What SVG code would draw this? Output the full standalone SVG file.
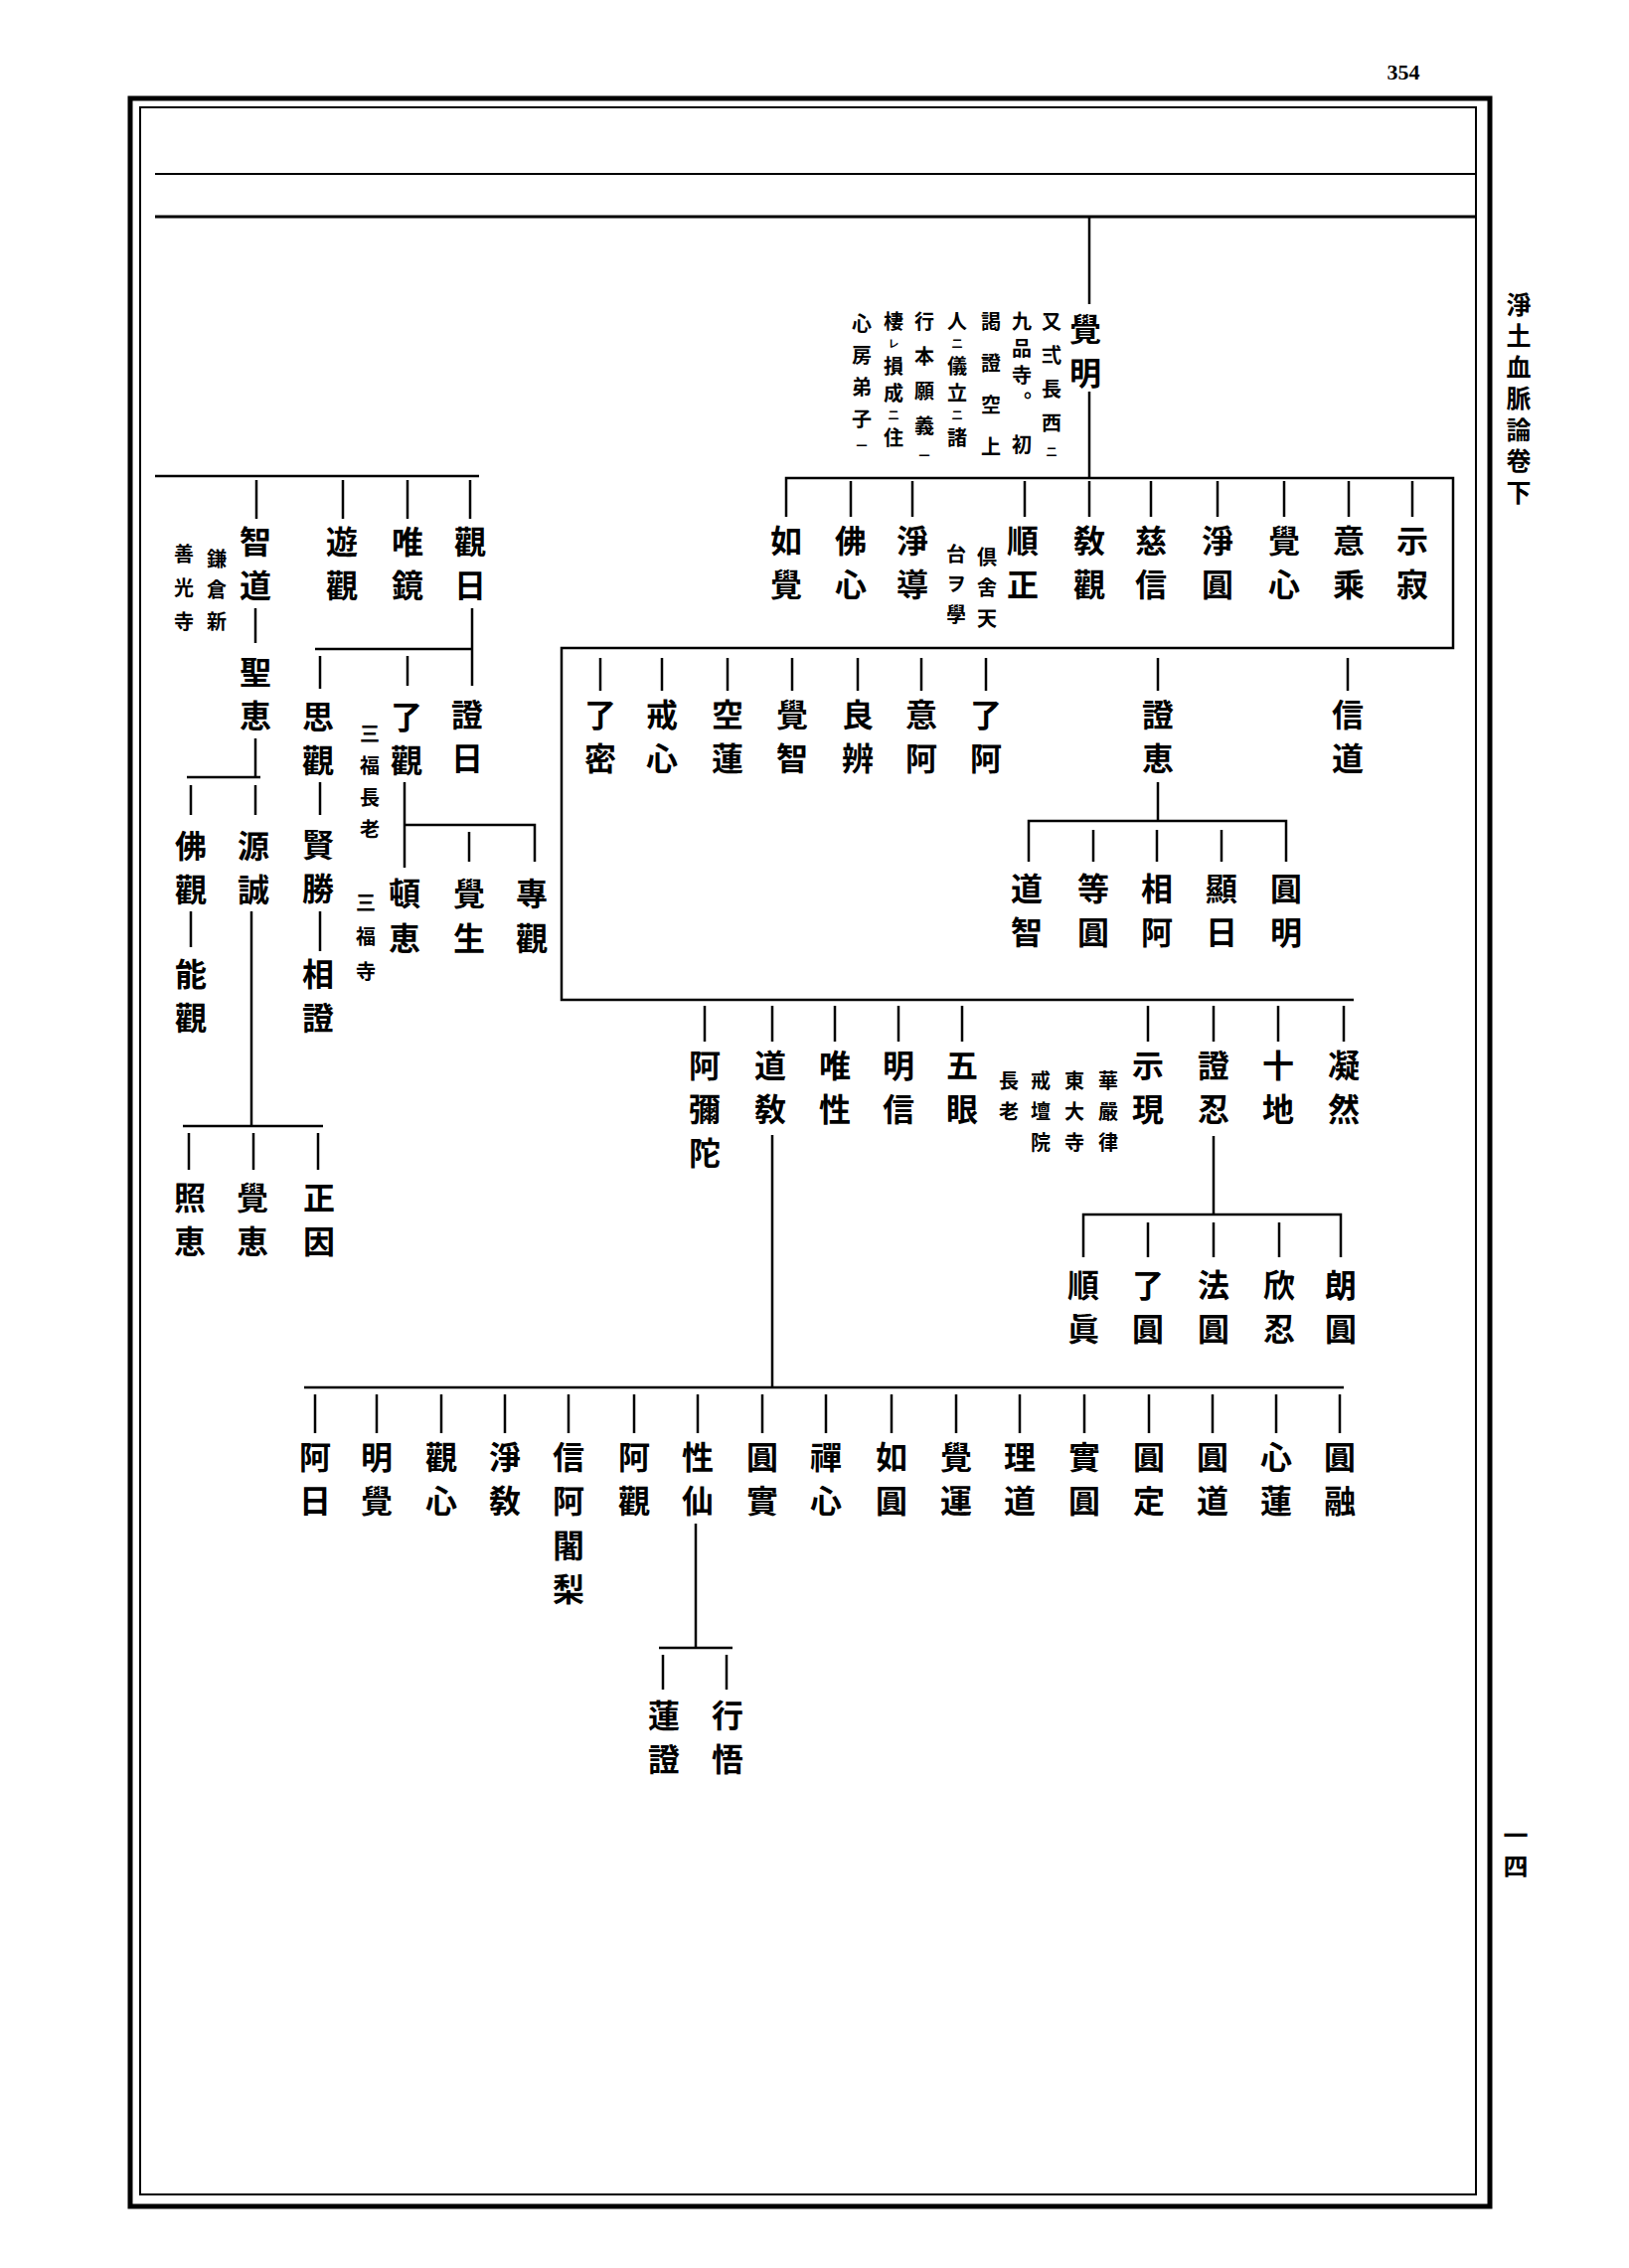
<svg xmlns="http://www.w3.org/2000/svg" width="1639" height="2282" viewBox="0 0 1639 2282">
<style>
.n{font-family:"Noto Sans CJK JP","Noto Sans CJK SC",sans-serif;font-size:32px;font-weight:700;text-anchor:middle;dominant-baseline:central;fill:#000}
.v{font-family:"Noto Sans CJK JP","Noto Sans CJK SC",sans-serif;font-size:20px;font-weight:700;writing-mode:vertical-rl;text-anchor:start;fill:#000}
.s{font-size:11px}
.m{font-size:25px;letter-spacing:6.5px}
.c path{stroke:#000;stroke-width:2.5;fill:none}
.f{stroke:#000;fill:none}
</style>
<rect width="1639" height="2282" fill="#fff"/>
<g id="frame">
<rect class="f" x="131" y="99" width="1368" height="2121" stroke-width="5"/>
<rect class="f" x="141" y="108" width="1344" height="2100" stroke-width="2"/>
<path class="f" d="M156 175H1485" stroke-width="2"/>
<path class="f" d="M156 218H1485" stroke-width="3"/>
<text x="1412" y="80" font-family="Liberation Serif,serif" font-size="22" font-weight="700" text-anchor="middle">354</text>
<text class="v m" x="1528" y="293.5">淨土血脈論卷下</text>
<text class="v m" x="1525" y="1833.5">一四</text>
</g>
<g class="c" id="connectors">
<path d="M1096 218V306M1096 394V481"/>
<path d="M791 520V481H1462V652H565V1006H1362"/>
<path d="M856 484V520M918 484V520M1031 484V520M1096 484V520M1158 484V520M1225 484V520M1292 484V520M1357 484V520M1421 484V520"/>
<path d="M604 662V695M666 662V695M732 662V695M797 662V695M863 662V695M927 662V695M992 662V695M1165 662V695M1356 662V695"/>
<path d="M1165 787V826M1035 867V826H1294V867M1100 835V867M1164 835V867M1229 835V867"/>
<path d="M709 1012V1048M777 1012V1048M840 1012V1048M904 1012V1048M968 1012V1048M1155 1012V1048M1221 1012V1048M1286 1012V1048M1352 1012V1048"/>
<path d="M1221 1143V1222M1090 1265V1222H1349V1265M1155 1230V1265M1221 1230V1265M1287 1230V1265"/>
<path d="M777 1142V1396M306 1396H1352"/>
<path d="M317 1403V1442M379 1403V1442M444 1403V1442M508 1403V1442M572 1403V1442M638 1403V1442M702 1403V1442M767 1403V1442M831 1403V1442M897 1403V1442M962 1403V1442M1026 1403V1442M1091 1403V1442M1156 1403V1442M1220 1403V1442M1284 1403V1442M1348 1403V1442"/>
<path d="M700 1533V1658M663 1658H737M667 1665V1700M731 1665V1700"/>
<path d="M156 479H482M258 483V522M345 483V522M410 483V522M473 483V522"/>
<path d="M257 612V647M257 743V782M188 782H262M192 790V820M257 790V820"/>
<path d="M192 917V953M253 917V1133M184 1133H325M190 1140V1177M255 1140V1177M320 1140V1177"/>
<path d="M475 612V690M317 653H475M322 660V693M410 660V690"/>
<path d="M322 787V820M322 917V957"/>
<path d="M407 787V873M407 830H538V867M472 837V867"/>
</g>
<g id="n-kakumyo"><text class="n"><tspan x="1092" y="329">覺</tspan><tspan x="1092" y="373">明</tspan></text></g>
<g id="n-kakumyo-note">
<text class="v" x="1058" y="313" letter-spacing="14">又弍長西<tspan class="s">二</tspan></text>
<text class="v" x="1028" y="313" letter-spacing="7">九品寺。</text>
<text class="v" x="1028" y="437">初</text>
<text class="v" x="997" y="313" letter-spacing="22">謁證空上</text>
<text class="v" x="963" y="313" letter-spacing="7">人<tspan class="s">二</tspan>儀立<tspan class="s">二</tspan>諸</text>
<text class="v" x="930" y="313" letter-spacing="15">行本願義<tspan class="s">一</tspan></text>
<text class="v" x="899" y="313" letter-spacing="7">棲<tspan class="s">レ</tspan>損成<tspan class="s">二</tspan>住</text>
<text class="v" x="867" y="315" letter-spacing="12">心房弟子<tspan class="s">一</tspan></text>
</g>
<g id="n-nyokaku"><text class="n"><tspan x="791" y="542">如</tspan><tspan x="791" y="586">覺</tspan></text></g>
<g id="n-busshin"><text class="n"><tspan x="856" y="542">佛</tspan><tspan x="856" y="586">心</tspan></text></g>
<g id="n-jodo"><text class="n"><tspan x="918" y="542">淨</tspan><tspan x="918" y="586">導</tspan></text>
<text class="v" x="993" y="550" letter-spacing="11">倶舍天</text>
<text class="v" x="962" y="547" letter-spacing="10.5">台ヲ學</text></g>
<g id="n-junsho"><text class="n"><tspan x="1029" y="542">順</tspan><tspan x="1029" y="586">正</tspan></text></g>
<g id="n-kyokan"><text class="n"><tspan x="1096" y="542">敎</tspan><tspan x="1096" y="586">觀</tspan></text></g>
<g id="n-jishin"><text class="n"><tspan x="1158" y="542">慈</tspan><tspan x="1158" y="586">信</tspan></text></g>
<g id="n-joen"><text class="n"><tspan x="1225" y="542">淨</tspan><tspan x="1225" y="586">圓</tspan></text></g>
<g id="n-kakushin"><text class="n"><tspan x="1292" y="542">覺</tspan><tspan x="1292" y="586">心</tspan></text></g>
<g id="n-ijo"><text class="n"><tspan x="1357" y="542">意</tspan><tspan x="1357" y="586">乘</tspan></text></g>
<g id="n-jijaku"><text class="n"><tspan x="1421" y="542">示</tspan><tspan x="1421" y="586">寂</tspan></text></g>
<g id="n-ryomitsu"><text class="n"><tspan x="604" y="717">了</tspan><tspan x="604" y="761">密</tspan></text></g>
<g id="n-kaishin"><text class="n"><tspan x="666" y="717">戒</tspan><tspan x="666" y="761">心</tspan></text></g>
<g id="n-kuren"><text class="n"><tspan x="732" y="717">空</tspan><tspan x="732" y="761">蓮</tspan></text></g>
<g id="n-kakuchi"><text class="n"><tspan x="797" y="717">覺</tspan><tspan x="797" y="761">智</tspan></text></g>
<g id="n-ryoben"><text class="n"><tspan x="863" y="717">良</tspan><tspan x="863" y="761">辨</tspan></text></g>
<g id="n-ia"><text class="n"><tspan x="927" y="717">意</tspan><tspan x="927" y="761">阿</tspan></text></g>
<g id="n-ryoa"><text class="n"><tspan x="992" y="717">了</tspan><tspan x="992" y="761">阿</tspan></text></g>
<g id="n-shoe"><text class="n"><tspan x="1165" y="717">證</tspan><tspan x="1165" y="761">恵</tspan></text></g>
<g id="n-shindo"><text class="n"><tspan x="1356" y="717">信</tspan><tspan x="1356" y="761">道</tspan></text></g>
<g id="n-dochi"><text class="n"><tspan x="1033" y="892">道</tspan><tspan x="1033" y="936">智</tspan></text></g>
<g id="n-toen"><text class="n"><tspan x="1100" y="892">等</tspan><tspan x="1100" y="936">圓</tspan></text></g>
<g id="n-soa"><text class="n"><tspan x="1164" y="892">相</tspan><tspan x="1164" y="936">阿</tspan></text></g>
<g id="n-kennichi"><text class="n"><tspan x="1229" y="892">顯</tspan><tspan x="1229" y="936">日</tspan></text></g>
<g id="n-enmyo"><text class="n"><tspan x="1294" y="892">圓</tspan><tspan x="1294" y="936">明</tspan></text></g>
<g id="n-amida"><text class="n"><tspan x="709" y="1070">阿</tspan><tspan x="709" y="1114">彌</tspan><tspan x="709" y="1158">陀</tspan></text></g>
<g id="n-dokyo"><text class="n"><tspan x="775" y="1070">道</tspan><tspan x="775" y="1114">敎</tspan></text></g>
<g id="n-yuisho"><text class="n"><tspan x="840" y="1070">唯</tspan><tspan x="840" y="1114">性</tspan></text></g>
<g id="n-myoshin"><text class="n"><tspan x="904" y="1070">明</tspan><tspan x="904" y="1114">信</tspan></text></g>
<g id="n-gogen"><text class="n"><tspan x="968" y="1070">五</tspan><tspan x="968" y="1114">眼</tspan></text></g>
<g id="n-jigen"><text class="n"><tspan x="1155" y="1070">示</tspan><tspan x="1155" y="1114">現</tspan></text>
<text class="v" x="1115" y="1077" letter-spacing="11">華嚴律</text>
<text class="v" x="1081" y="1077" letter-spacing="11">東大寺</text>
<text class="v" x="1047" y="1077" letter-spacing="11">戒壇院</text>
<text class="v" x="1015" y="1077" letter-spacing="11">長老</text></g>
<g id="n-shonin"><text class="n"><tspan x="1221" y="1070">證</tspan><tspan x="1221" y="1114">忍</tspan></text></g>
<g id="n-jicchi"><text class="n"><tspan x="1286" y="1070">十</tspan><tspan x="1286" y="1114">地</tspan></text></g>
<g id="n-gyonen"><text class="n"><tspan x="1352" y="1070">凝</tspan><tspan x="1352" y="1114">然</tspan></text></g>
<g id="n-junshin"><text class="n"><tspan x="1090" y="1291">順</tspan><tspan x="1090" y="1335">眞</tspan></text></g>
<g id="n-ryoen"><text class="n"><tspan x="1155" y="1291">了</tspan><tspan x="1155" y="1335">圓</tspan></text></g>
<g id="n-hoen"><text class="n"><tspan x="1221" y="1291">法</tspan><tspan x="1221" y="1335">圓</tspan></text></g>
<g id="n-gonnin"><text class="n"><tspan x="1287" y="1291">欣</tspan><tspan x="1287" y="1335">忍</tspan></text></g>
<g id="n-roen"><text class="n"><tspan x="1349" y="1291">朗</tspan><tspan x="1349" y="1335">圓</tspan></text></g>
<g id="n-anichi"><text class="n"><tspan x="317" y="1464">阿</tspan><tspan x="317" y="1508">日</tspan></text></g>
<g id="n-myokaku"><text class="n"><tspan x="379" y="1464">明</tspan><tspan x="379" y="1508">覺</tspan></text></g>
<g id="n-kanshin"><text class="n"><tspan x="444" y="1464">觀</tspan><tspan x="444" y="1508">心</tspan></text></g>
<g id="n-jokyo"><text class="n"><tspan x="508" y="1464">淨</tspan><tspan x="508" y="1508">敎</tspan></text></g>
<g id="n-shinajari"><text class="n"><tspan x="572" y="1464">信</tspan><tspan x="572" y="1508">阿</tspan><tspan x="572" y="1553">闍</tspan><tspan x="572" y="1597">梨</tspan></text></g>
<g id="n-akan"><text class="n"><tspan x="638" y="1464">阿</tspan><tspan x="638" y="1508">觀</tspan></text></g>
<g id="n-shosen"><text class="n"><tspan x="702" y="1464">性</tspan><tspan x="702" y="1508">仙</tspan></text></g>
<g id="n-enjitsu"><text class="n"><tspan x="767" y="1464">圓</tspan><tspan x="767" y="1508">實</tspan></text></g>
<g id="n-zenshin"><text class="n"><tspan x="831" y="1464">禪</tspan><tspan x="831" y="1508">心</tspan></text></g>
<g id="n-nyoen"><text class="n"><tspan x="897" y="1464">如</tspan><tspan x="897" y="1508">圓</tspan></text></g>
<g id="n-kakuun"><text class="n"><tspan x="962" y="1464">覺</tspan><tspan x="962" y="1508">運</tspan></text></g>
<g id="n-rido"><text class="n"><tspan x="1026" y="1464">理</tspan><tspan x="1026" y="1508">道</tspan></text></g>
<g id="n-jitsuen"><text class="n"><tspan x="1091" y="1464">實</tspan><tspan x="1091" y="1508">圓</tspan></text></g>
<g id="n-enjo"><text class="n"><tspan x="1156" y="1464">圓</tspan><tspan x="1156" y="1508">定</tspan></text></g>
<g id="n-endo"><text class="n"><tspan x="1220" y="1464">圓</tspan><tspan x="1220" y="1508">道</tspan></text></g>
<g id="n-shinren"><text class="n"><tspan x="1284" y="1464">心</tspan><tspan x="1284" y="1508">蓮</tspan></text></g>
<g id="n-enyu"><text class="n"><tspan x="1348" y="1464">圓</tspan><tspan x="1348" y="1508">融</tspan></text></g>
<g id="n-rensho"><text class="n"><tspan x="668" y="1724">蓮</tspan><tspan x="668" y="1768">證</tspan></text></g>
<g id="n-gyogo"><text class="n"><tspan x="732" y="1724">行</tspan><tspan x="732" y="1768">悟</tspan></text></g>
<g id="n-chido"><text class="n"><tspan x="257" y="543">智</tspan><tspan x="257" y="587">道</tspan></text>
<text class="v" x="218" y="552" letter-spacing="11.5">鎌倉新</text>
<text class="v" x="185" y="547" letter-spacing="14">善光寺</text></g>
<g id="n-yukan"><text class="n"><tspan x="344" y="543">遊</tspan><tspan x="344" y="587">觀</tspan></text></g>
<g id="n-yuikyo"><text class="n"><tspan x="410" y="543">唯</tspan><tspan x="410" y="587">鏡</tspan></text></g>
<g id="n-kannichi"><text class="n"><tspan x="473" y="543">觀</tspan><tspan x="473" y="587">日</tspan></text></g>
<g id="n-shoe2"><text class="n"><tspan x="257" y="674">聖</tspan><tspan x="257" y="718">恵</tspan></text></g>
<g id="n-bukkan"><text class="n"><tspan x="192" y="849">佛</tspan><tspan x="192" y="893">觀</tspan></text></g>
<g id="n-genjo"><text class="n"><tspan x="255" y="849">源</tspan><tspan x="255" y="893">誠</tspan></text></g>
<g id="n-nokan"><text class="n"><tspan x="192" y="978">能</tspan><tspan x="192" y="1022">觀</tspan></text></g>
<g id="n-shoe3"><text class="n"><tspan x="191" y="1203">照</tspan><tspan x="191" y="1247">恵</tspan></text></g>
<g id="n-kakue"><text class="n"><tspan x="254" y="1203">覺</tspan><tspan x="254" y="1247">恵</tspan></text></g>
<g id="n-shoin"><text class="n"><tspan x="321" y="1203">正</tspan><tspan x="321" y="1247">因</tspan></text></g>
<g id="n-shonichi"><text class="n"><tspan x="470" y="717">證</tspan><tspan x="470" y="761">日</tspan></text></g>
<g id="n-shikan"><text class="n"><tspan x="320" y="719">思</tspan><tspan x="320" y="763">觀</tspan></text></g>
<g id="n-ryokan"><text class="n"><tspan x="409" y="719">了</tspan><tspan x="409" y="763">觀</tspan></text>
<text class="v" x="372" y="728" letter-spacing="12">三福長老</text></g>
<g id="n-kensho"><text class="n"><tspan x="320" y="848">賢</tspan><tspan x="320" y="892">勝</tspan></text></g>
<g id="n-sosho"><text class="n"><tspan x="320" y="978">相</tspan><tspan x="320" y="1022">證</tspan></text></g>
<g id="n-tone"><text class="n"><tspan x="407" y="897">頓</tspan><tspan x="407" y="942">恵</tspan></text>
<text class="v" x="368" y="898" letter-spacing="14.5">三福寺</text></g>
<g id="n-kakusho"><text class="n"><tspan x="472" y="897">覺</tspan><tspan x="472" y="942">生</tspan></text></g>
<g id="n-senkan"><text class="n"><tspan x="535" y="897">專</tspan><tspan x="535" y="942">觀</tspan></text></g>
</svg>
